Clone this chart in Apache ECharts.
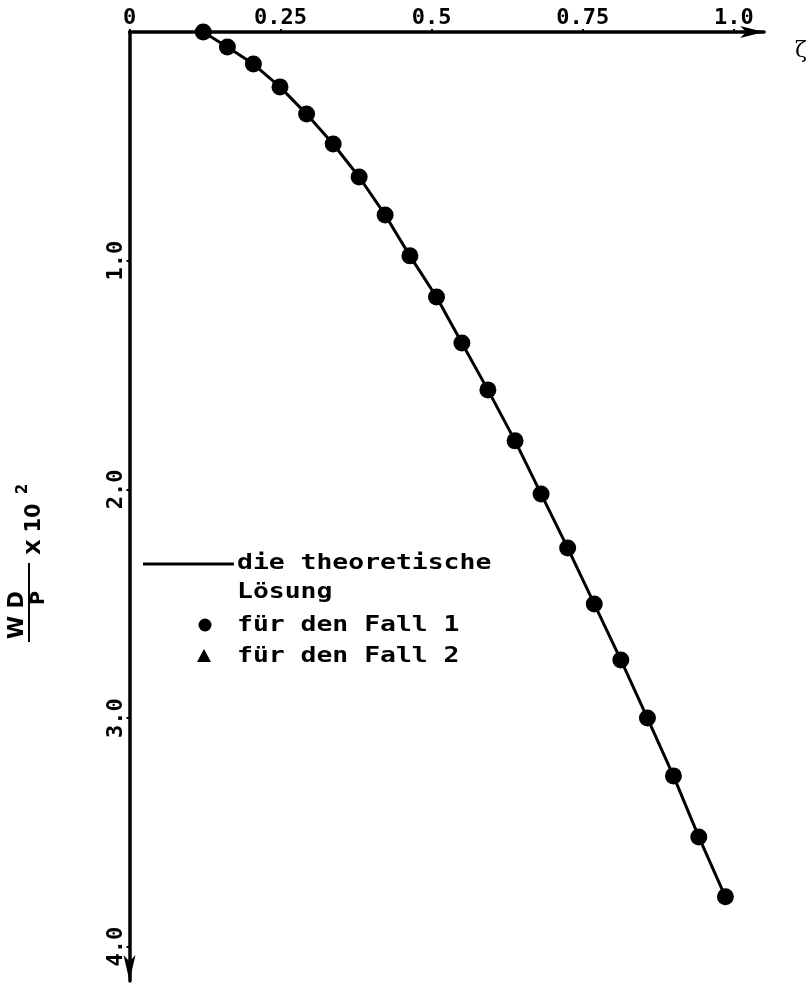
<!DOCTYPE html>
<html>
<head>
<meta charset="utf-8">
<title>Durchbiegung</title>
<script src="https://cdn.jsdelivr.net/npm/echarts@6/dist/echarts.min.js"></script>
<style>
  html, body { margin: 0; padding: 0; background: #ffffff; }
  #chart { width: 810px; height: 985px; }
</style>
</head>
<body>
<div id="chart"></div>
<script>
// Relative position zeta and dimensionless deflection WD/P x 10^2
const zeta = [0.122, 0.162, 0.205, 0.249, 0.293, 0.337, 0.380, 0.423, 0.464, 0.508, 0.550,
              0.593, 0.638, 0.681, 0.725, 0.769, 0.813, 0.857, 0.900, 0.942, 0.986];
// theoretical solution
const wdTheory = [0.00, 0.066, 0.140, 0.240, 0.359, 0.490, 0.634, 0.800, 0.979, 1.159, 1.360,
                  1.565, 1.788, 2.020, 2.256, 2.501, 2.746, 3.000, 3.253, 3.520, 3.782];
// Fall 1 (circles)
const wdFall1 = [0.00, 0.066, 0.140, 0.240, 0.359, 0.490, 0.634, 0.800, 0.979, 1.159, 1.360,
                 1.565, 1.788, 2.020, 2.256, 2.501, 2.746, 3.000, 3.253, 3.520, 3.782];
// Fall 2 (triangles)
const wdFall2 = [0.00, 0.066, 0.140, 0.240, 0.359, 0.490, 0.634, 0.800, 0.979, 1.159, 1.360,
                 1.565, 1.788, 2.020, 2.256, 2.501, 2.746, 3.000, 3.253, 3.520, 3.782];

const xTickLabels = ['0', '0.25', '0.5', '0.75', '1.0'];
const yTickLabels = ['0', '1.0', '2.0', '3.0', '4.0'];

const legendTexts = ['die theoretische', 'Lösung', 'für den Fall 1', 'für den Fall 2'];

const pairs = (xs, ys) => xs.map((x, i) => [x, ys[i]]);

const FONT = 'DejaVu Sans Mono';
const labelStyle = { fontFamily: FONT, fontWeight: 'bold', fontSize: 22, color: '#000' };

const chart = echarts.init(document.getElementById('chart'), null, { renderer: 'canvas' });

const option = {
  backgroundColor: '#ffffff',
  animation: false,
  grid: { left: 129.5, top: 32, right: 37.5, bottom: 4 },
  xAxis: {
    type: 'value',
    position: 'top',
    min: 0,
    max: 1.05,
    interval: 0.25,
    name: 'ζ',
    nameLocation: 'end',
    nameGap: 31,
    nameTextStyle: { fontFamily: 'DejaVu Serif', fontSize: 22, color: '#000', verticalAlign: 'top', padding: [8, 0, 0, 0] },
    axisLine: { onZero: false, lineStyle: { color: '#000', width: 3.5 }, symbol: ['none', 'arrow'], symbolSize: [9, 24] },
    axisTick: { show: true, length: 3, lineStyle: { color: '#000', width: 2 } },
    splitLine: { show: false },
    axisLabel: Object.assign({
      margin: 3,
      showMaxLabel: false,
      formatter: v => {
        const i = Math.round(v / 0.25);
        return Math.abs(v - i * 0.25) < 1e-6 && i < xTickLabels.length ? xTickLabels[i] : '';
      }
    }, labelStyle)
  },
  yAxis: {
    type: 'value',
    inverse: true,
    min: 0,
    max: 4.15,
    interval: 1,
    axisLine: { onZero: false, lineStyle: { color: '#000', width: 3.5 }, symbol: ['arrow', 'none'], symbolSize: [9, 26] },
    axisTick: { show: true, length: 3, lineStyle: { color: '#000', width: 2 } },
    splitLine: { show: false },
    axisLabel: Object.assign({
      rotate: 90,
      margin: 2,
      showMinLabel: false,
      showMaxLabel: false,
      formatter: v => {
        const i = Math.round(v);
        return Math.abs(v - i) < 1e-6 && i < yTickLabels.length ? yTickLabels[i] : '';
      }
    }, labelStyle)
  },
  series: [
    {
      name: 'theorie',
      type: 'line',
      data: pairs(zeta, wdTheory),
      symbol: 'none',
      lineStyle: { color: '#000', width: 3 },
      z: 2
    },
    {
      name: 'Fall 2',
      type: 'scatter',
      data: pairs(zeta, wdFall2),
      symbol: 'triangle',
      symbolSize: 12,
      itemStyle: { color: '#000', opacity: 1 },
      z: 3
    },
    {
      name: 'Fall 1',
      type: 'scatter',
      data: pairs(zeta, wdFall1),
      symbol: 'circle',
      symbolSize: 17,
      itemStyle: { color: '#000', opacity: 1 },
      z: 4
    }
  ],
  graphic: [
    // axis title: WD / P x 10^2, written bottom-to-top
    {
      type: 'group',
      x: 29,
      y: 605,
      rotation: Math.PI / 2,
      children: [
        { type: 'line', shape: { x1: -37, y1: 0, x2: 42, y2: 0 }, style: { stroke: '#000', lineWidth: 2 } },
        { type: 'text', x: -10, y: -11, style: { text: 'W D', fontFamily: 'DejaVu Sans', fontWeight: 'bold', fontSize: 21, fill: '#000', align: 'center', verticalAlign: 'middle' } },
        { type: 'text', x: 7, y: 10, style: { text: 'P', fontFamily: 'DejaVu Sans', fontWeight: 'bold', fontSize: 19, fill: '#000', align: 'center', verticalAlign: 'middle' } },
        { type: 'text', x: 58, y: 6, style: { text: 'X', fontFamily: 'DejaVu Sans', fontWeight: 'bold', fontSize: 20, fill: '#000', align: 'center', verticalAlign: 'middle' } },
        { type: 'text', x: 87, y: 6, style: { text: '10', fontFamily: 'DejaVu Sans', fontWeight: 'bold', fontSize: 21, fill: '#000', align: 'center', verticalAlign: 'middle' } },
        { type: 'text', x: 116, y: -6, style: { text: '2', fontFamily: 'DejaVu Sans', fontWeight: 'bold', fontSize: 15, fill: '#000', align: 'center', verticalAlign: 'middle' } }
      ]
    },
    // legend
    { type: 'line', shape: { x1: 143, y1: 564, x2: 234, y2: 564 }, style: { stroke: '#000', lineWidth: 3 } },
    { type: 'text', x: 237, y: 563, scaleX: 1.2, style: { text: legendTexts[0], fontFamily: FONT, fontWeight: 'bold', fontSize: 22, fill: '#000', align: 'left', verticalAlign: 'middle' } },
    { type: 'text', x: 237, y: 592, scaleX: 1.2, style: { text: legendTexts[1], fontFamily: FONT, fontWeight: 'bold', fontSize: 22, fill: '#000', align: 'left', verticalAlign: 'middle' } },
    { type: 'circle', shape: { cx: 205, cy: 625, r: 6.5 }, style: { fill: '#000' } },
    { type: 'text', x: 237, y: 625, scaleX: 1.2, style: { text: legendTexts[2], fontFamily: FONT, fontWeight: 'bold', fontSize: 22, fill: '#000', align: 'left', verticalAlign: 'middle' } },
    { type: 'polygon', shape: { points: [[204, 649], [211, 662], [197, 662]] }, style: { fill: '#000' } },
    { type: 'text', x: 237, y: 656, scaleX: 1.2, style: { text: legendTexts[3], fontFamily: FONT, fontWeight: 'bold', fontSize: 22, fill: '#000', align: 'left', verticalAlign: 'middle' } }
  ]
};

chart.setOption(option);
</script>
</body>
</html>
